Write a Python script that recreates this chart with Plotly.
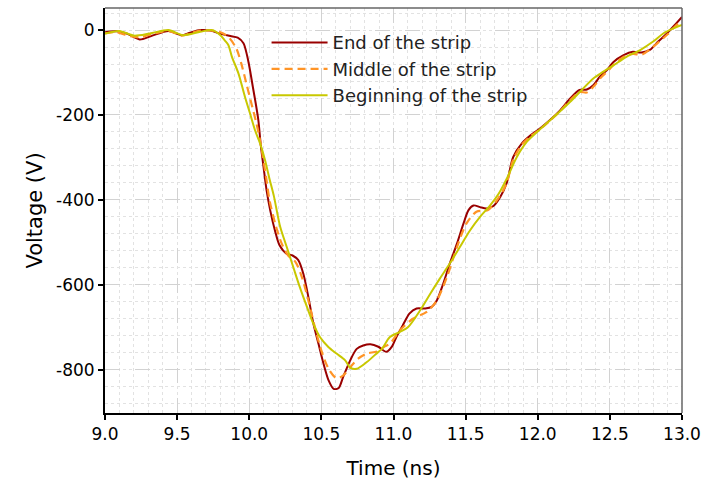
import plotly.graph_objects as go

# ---- data ----
t_end = [9.00, 9.08, 9.15, 9.24, 9.32, 9.44, 9.53, 9.59, 9.66, 9.73, 9.80, 9.87, 9.92, 9.96,
         9.985, 10.005, 10.025, 10.045, 10.063, 10.08, 10.10, 10.12, 10.145, 10.178, 10.21,
         10.26, 10.30, 10.34, 10.375, 10.41, 10.445, 10.48, 10.515, 10.55, 10.585, 10.62,
         10.65, 10.70, 10.745, 10.79, 10.84, 10.895, 10.95, 10.99, 11.02, 11.07, 11.11, 11.16,
         11.22, 11.265, 11.30, 11.345, 11.39, 11.44, 11.485, 11.52, 11.555, 11.60, 11.645,
         11.69, 11.74, 11.785, 11.83, 11.89, 11.95, 12.015, 12.085, 12.155, 12.225, 12.29,
         12.34, 12.385, 12.43, 12.48, 12.525, 12.595, 12.66, 12.72, 12.78, 12.835, 12.895,
         12.95, 13.0]
v_end = [-5, -3, -8, -22, -14, -2, -12, -6, 0, -1, -9, -14, -18, -31,
         -60, -94, -134, -173, -212, -271, -325, -377, -424, -472, -507,
         -527, -531, -542, -574, -629, -692, -739, -786, -825, -845, -843,
         -818, -778, -751, -743, -740, -746, -758, -745, -723, -692, -668, -656,
         -656, -652, -637, -597, -550, -503, -456, -424, -413, -417, -420,
         -415, -393, -360, -299, -267, -248, -232, -212, -189, -161, -141,
         -140, -130, -110, -94, -75, -59, -51, -53, -46, -27, -8,
         12, 31]

t_mid = [9.00, 9.08, 9.17, 9.24, 9.32, 9.44, 9.53, 9.60, 9.66, 9.73, 9.80, 9.855, 9.91, 9.945,
         9.98, 10.015, 10.05, 10.075, 10.095, 10.12, 10.14, 10.18, 10.225, 10.27, 10.32,
         10.365, 10.41, 10.455, 10.50, 10.55, 10.605, 10.65, 10.70, 10.755, 10.815, 10.885,
         10.94, 10.975, 11.045, 11.135, 11.23, 11.30, 11.37, 11.44, 11.505, 11.575, 11.655,
         11.725, 11.785, 11.83, 11.89, 11.95, 12.015, 12.085, 12.155, 12.225, 12.29, 12.34,
         12.39, 12.44, 12.49, 12.53, 12.60, 12.66, 12.72, 12.78, 12.84, 12.90, 12.95, 13.0]
v_mid = [-8, -5, -14, -17, -10, -2, -13, -7, -1, -1, -5, -16, -43, -79,
         -126, -173, -220, -260, -300, -354, -400, -456, -503, -531, -546,
         -582, -637, -700, -755, -798, -820, -814, -794, -774, -762, -757,
         -745, -739, -707, -680, -664, -637, -582, -511, -456, -428, -424,
         -397, -360, -305, -270, -250, -234, -213, -191, -165, -146, -147,
         -132, -111, -95, -80, -62, -56, -58, -45, -28, -10, 8, 22]

t_beg = [9.00, 9.10, 9.20, 9.31, 9.44, 9.54, 9.66, 9.74, 9.80, 9.83, 9.855, 9.88, 9.925, 9.97,
         10.005, 10.04, 10.075, 10.11, 10.14, 10.17, 10.215, 10.26, 10.305, 10.35, 10.40,
         10.445, 10.49, 10.55, 10.605, 10.665, 10.70, 10.745, 10.815, 10.895, 10.92, 10.975,
         11.045, 11.10, 11.185, 11.255, 11.32, 11.39, 11.46, 11.53, 11.60, 11.67, 11.73,
         11.785, 11.855, 11.925, 11.995, 12.06, 12.14, 12.225, 12.305, 12.385, 12.455,
         12.525, 12.615, 12.71, 12.80, 12.87, 12.94, 13.0]
v_beg = [-8, -2, -13, -8, 0, -12, -4, 0, -12, -24, -35, -63, -102, -157,
         -196, -236, -267, -307, -350, -390, -464, -511, -558, -605, -652,
         -692, -723, -747, -762, -778, -795, -798, -782, -758, -751, -723,
         -711, -700, -660, -621, -586, -550, -511, -472, -440, -413, -385,
         -350, -299, -263, -240, -220, -196, -169, -141, -114, -98,
         -83, -63, -47, -27, -8, 4, 12]

names = ["End of the strip", "Middle of the strip", "Beginning of the strip"]
colors = ["#990000", "#ff9426", "#c8c800"]

x_ticks = [9.0, 9.5, 10.0, 10.5, 11.0, 11.5, 12.0, 12.5, 13.0]
x_labels = ["9.0", "9.5", "10.0", "10.5", "11.0", "11.5", "12.0", "12.5", "13.0"]
y_ticks = [0, -200, -400, -600, -800]
y_labels = ["0", "-200", "-400", "-600", "-800"]

FONT = "DejaVu Sans"

fig = go.Figure()
fig.add_trace(go.Scatter(x=t_end, y=v_end, mode="lines", name=names[0],
                         line=dict(color=colors[0], width=2, shape="spline", smoothing=0.8)))
fig.add_trace(go.Scatter(x=t_mid, y=v_mid, mode="lines", name=names[1],
                         line=dict(color=colors[1], width=2.2, dash="8px,5px", shape="spline", smoothing=0.8)))
fig.add_trace(go.Scatter(x=t_beg, y=v_beg, mode="lines", name=names[2],
                         line=dict(color=colors[2], width=2, shape="spline", smoothing=0.8)))

axis_common = dict(
    showline=True, linecolor="black", linewidth=2,
    ticks="outside", ticklen=5, tickwidth=1.5, tickcolor="black",
    showgrid=True, gridcolor="#d2d2d2", gridwidth=1.3, griddash="longdash",
    zeroline=False, automargin=False,
    tickfont=dict(family=FONT, size=17, color="black"),
)

fig.update_xaxes(
    range=[9.0, 13.0], tickmode="array", tickvals=x_ticks, ticktext=x_labels,
    title=dict(text="Time (ns)", font=dict(family=FONT, size=20, color="black"), standoff=18),
    minor=dict(dtick=0.1, showgrid=True, gridcolor="#e2e2e2", griddash="dot", gridwidth=1),
    **axis_common,
)
fig.update_yaxes(
    range=[-902, 52], tickmode="array", tickvals=y_ticks, ticktext=y_labels,
    title=dict(text="Voltage (V)", font=dict(family=FONT, size=21, color="black"), standoff=8),
    minor=dict(dtick=40, tick0=0, showgrid=True, gridcolor="#e2e2e2", griddash="dot", gridwidth=1),
    **axis_common,
)

# thin grey frame on top and right
fig.add_shape(type="line", xref="paper", yref="paper", x0=0, x1=1, y0=1, y1=1,
              line=dict(color="#666666", width=1.5))
fig.add_shape(type="line", xref="paper", yref="paper", x0=1, x1=1, y0=0, y1=1,
              line=dict(color="#666666", width=1.5))

fig.update_layout(
    width=704, height=487,
    margin=dict(l=105, r=22, t=8, b=74),
    plot_bgcolor="white", paper_bgcolor="white",
    font=dict(family=FONT, color="black"),
    legend=dict(x=0.28, y=0.96, xanchor="left", yanchor="top",
                bgcolor="rgba(0,0,0,0)", borderwidth=0,
                font=dict(family=FONT, size=18, color="#222222"),
                itemwidth=56, tracegroupgap=4),
    showlegend=True,
)

fig.write_html("out.html")
